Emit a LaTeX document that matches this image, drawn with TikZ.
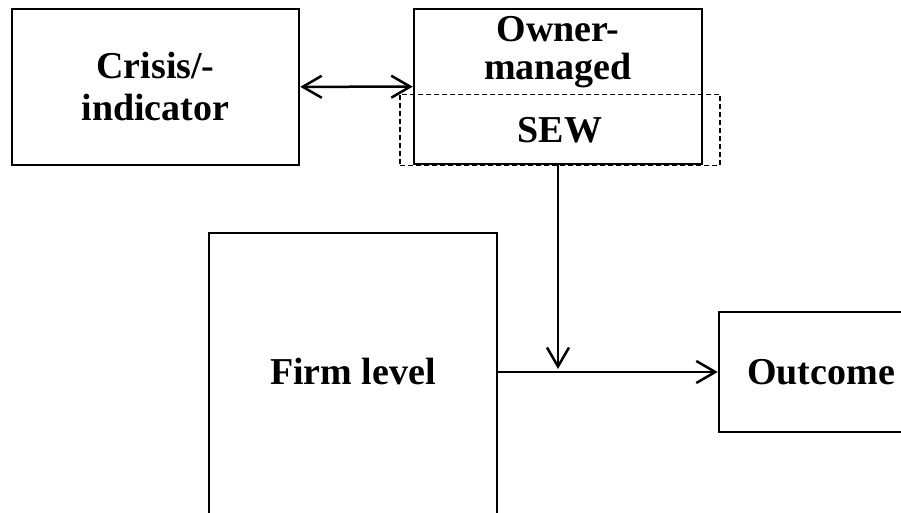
\documentclass[tikz,border=0pt]{standalone}
\usepackage{fontspec}
\setmainfont{Liberation Serif}
\usetikzlibrary{arrows.meta,positioning}
\tikzset{
	box/.style={draw, line width=1.25pt, inner sep=0pt, align=center, font=\bfseries\fontsize{19}{21}\selectfont},
	sewbox/.style={draw, line width=0.6pt, dash pattern=on 2.5pt off 1.5pt, inner sep=0pt, font=\bfseries\fontsize{19}{21}\selectfont},
	barb/.tip={Straight Barb[length=9.5pt, width=11pt, line width=1.25pt]},
	link/.style={line width=1.25pt, -barb}
}

\begin{document}
\begin{tikzpicture}[x=1pt, y=1pt]
		\path[use as bounding box, clip] (0,0) rectangle (450.5,256.5);
		%
		\node (crisis) [box, minimum width=143.5pt, minimum height=78pt] at (77.75,213) {Crisis/-\\indicator};
		\node (owner) [box, minimum width=144pt, minimum height=77.5pt] at (279,213.25) {};
		\node (ownertxt) [box, draw=none, anchor=north, font=\bfseries\fontsize{19}{19}\selectfont] at ([yshift=-3.5pt]owner.north) {Owner-\\managed};
		\node (sew) [sewbox, minimum width=160pt, minimum height=35.5pt] at (280,191.5) {SEW};
		%
		\node (firm) [box, anchor=north, minimum width=144pt, minimum height=160pt] at (176.5,140.5) {};
		\node (firmtxt) [box, draw=none] at (176.5,70.5) {Firm level};
		\node (outcome) [box, minimum width=102pt, minimum height=60pt] at (410.5,70.5) {Outcome};
		%
		\coordinate (join) at ([yshift=1.5pt]owner.south |- outcome.west);
		\draw [link, barb-barb] (crisis) -- (owner);
		\draw [link] (firmtxt -| firm.east) -- (outcome);
		\draw [link] (owner.south) -- (join);
	\end{tikzpicture}
\end{document}
